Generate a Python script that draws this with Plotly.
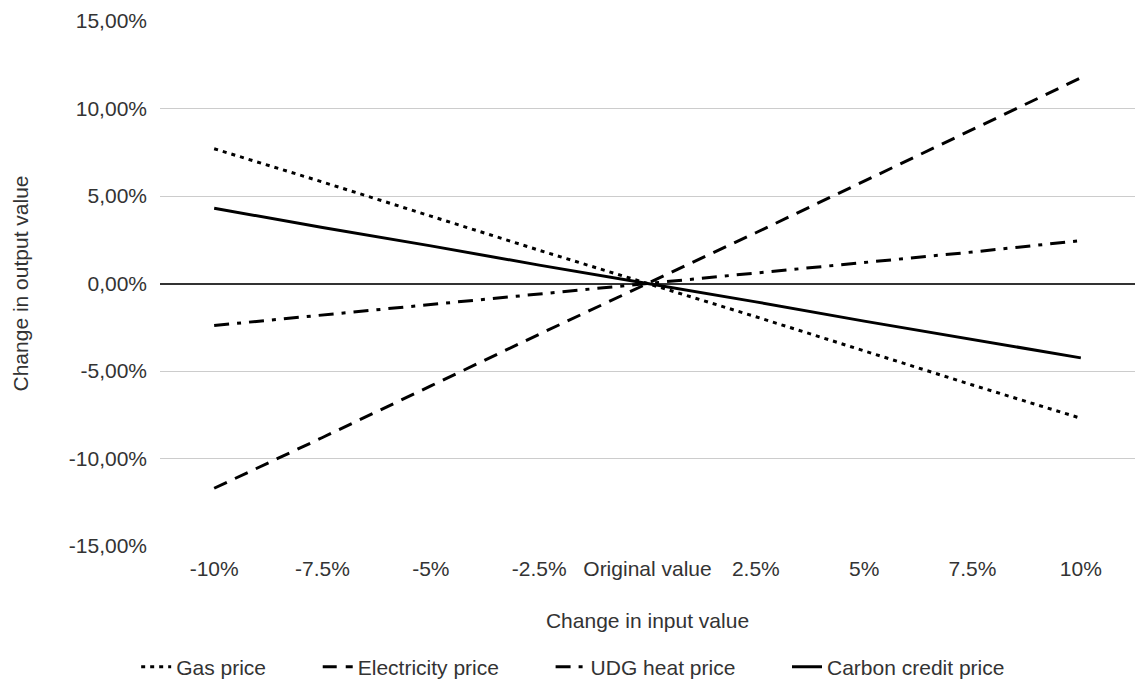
import plotly.graph_objects as go

# Sensitivity of the output value to changes in each input price
categories = ["-10%", "-7.5%", "-5%", "-2.5%", "Original value", "2.5%", "5%", "7.5%", "10%"]

gas_price = [7.7, 5.8, 3.85, 1.9, 0.0, -1.9, -3.85, -5.8, -7.7]
electricity_price = [-11.7, -8.8, -5.85, -2.9, 0.0, 2.9, 5.85, 8.8, 11.75]
udg_heat_price = [-2.4, -1.8, -1.2, -0.6, 0.0, 0.6, 1.2, 1.8, 2.45]
carbon_credit_price = [4.3, 3.2, 2.15, 1.05, 0.0, -1.05, -2.15, -3.2, -4.25]

y_ticks = [-15, -10, -5, 0, 5, 10, 15]
y_tick_labels = [f"{v:.2f}%".replace(".", ",") for v in y_ticks]

series = [
    ("Gas price", gas_price, "4px,5px"),
    ("Electricity price", electricity_price, "14px,9px"),
    ("UDG heat price", udg_heat_price, "15px,8px,4px,8px"),
    ("Carbon credit price", carbon_credit_price, "solid"),
]

# extra spacing after each legend entry
pad = "\u00a0" * 8

fig = go.Figure()
for i, (name, values, dash) in enumerate(series):
    label = name + (pad if i < len(series) - 1 else "")
    fig.add_trace(go.Scatter(
        x=categories, y=values, name=label, mode="lines",
        line=dict(color="black", width=3, dash=dash),
    ))

font_family = "'Liberation Sans', Arial, sans-serif"
text_color = "#333333"
fs = 21

fig.update_layout(
    width=1135, height=682,
    margin=dict(l=160, r=0, t=21, b=136),
    paper_bgcolor="white", plot_bgcolor="white",
    font=dict(family=font_family, size=fs, color=text_color),
    showlegend=True,
    legend=dict(
        orientation="h", xref="container", x=0.505, xanchor="center",
        yref="container", y=0.022, yanchor="middle",
        font=dict(size=fs, color=text_color),
        itemwidth=30,
    ),
    xaxis=dict(
        type="category", range=[-0.5, 8.5],
        showgrid=False, zeroline=False, showline=False,
        ticks="", ticklabelstandoff=8,
        tickfont=dict(size=fs, color=text_color),
        title=dict(text="Change in input value", font=dict(size=fs, color=text_color), standoff=34),
    ),
    yaxis=dict(
        range=[-15, 15], tickvals=y_ticks, ticktext=y_tick_labels,
        showgrid=True, gridcolor="#cccccc", gridwidth=1,
        zeroline=True, zerolinecolor="#333333", zerolinewidth=1.5,
        showline=False, ticks="", ticklabelstandoff=12,
        tickfont=dict(size=fs, color=text_color),
    ),
    annotations=[dict(
        text="Change in output value", textangle=-90,
        xref="paper", x=0, xshift=-140, xanchor="center",
        yref="paper", y=0.5, yanchor="middle",
        showarrow=False, font=dict(size=fs, color=text_color),
    )],
)

fig.write_html("out.html")
